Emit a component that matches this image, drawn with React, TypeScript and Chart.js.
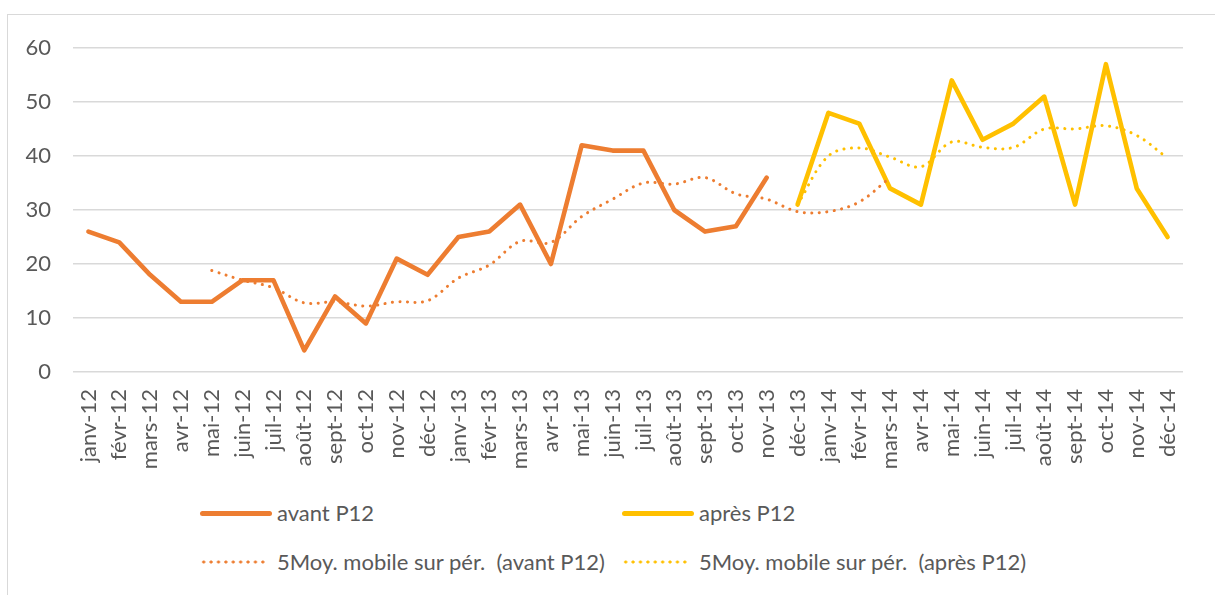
import React, { useEffect, useRef } from "react";
import { Chart, registerables } from "chart.js";

Chart.register(...registerables);

const categories = [
  "janv-12", "févr-12", "mars-12", "avr-12", "mai-12", "juin-12", "juil-12", "août-12", "sept-12", "oct-12", "nov-12", "déc-12",
  "janv-13", "févr-13", "mars-13", "avr-13", "mai-13", "juin-13", "juil-13", "août-13", "sept-13", "oct-13", "nov-13", "déc-13",
  "janv-14", "févr-14", "mars-14", "avr-14", "mai-14", "juin-14", "juil-14", "août-14", "sept-14", "oct-14", "nov-14", "déc-14",
];

const avantP12 = [
  26, 24, 18, 13, 13, 17, 17, 4, 14, 9, 21, 18,
  25, 26, 31, 20, 42, 41, 41, 30, 26, 27, 36, null,
  null, null, null, null, null, null, null, null, null, null, null, null,
];

const apresP12 = [
  null, null, null, null, null, null, null, null, null, null, null, null,
  null, null, null, null, null, null, null, null, null, null, null, 31,
  48, 46, 34, 31, 54, 43, 46, 51, 31, 57, 34, 25,
];

const moyAvant = [
  null, null, null, null, 18.8, 17, 15.6, 12.8, 13, 12.2, 13, 13.2,
  17.4, 19.8, 24.2, 24, 28.8, 32, 35, 34.8, 36, 33, 32, 29.7,
  29.7, 31.5, 36, null, null, null, null, null, null, null, null, null,
];

const moyApres = [
  null, null, null, null, null, null, null, null, null, null, null, null,
  null, null, null, null, null, null, null, null, null, null, null, 31,
  40, 41.5, 39.8, 38, 42.6, 41.6, 41.6, 45, 45, 45.6, 43.8, 39.6,
];

const yTicks = [0, 10, 20, 30, 40, 50, 60];

const legendLabels = [
  "avant P12",
  "après P12",
  "5Moy. mobile sur pér.  (avant P12)",
  "5Moy. mobile sur pér.  (après P12)",
];

const ORANGE = "#ED7D31";
const YELLOW = "#FFC000";
const TEXT = "#595959";
const GRID = "#D9D9D9";
const FONT = "Lato, 'Open Sans', sans-serif";
const FSIZE = 22;

export default function App() {
  const ref = useRef<HTMLCanvasElement | null>(null);

  useEffect(() => {
    if (!ref.current) return;
    const chart = new Chart(ref.current, {
      type: "line",
      data: {
        labels: categories,
        datasets: [
          {
            label: legendLabels[2],
            data: moyAvant,
            borderColor: ORANGE,
            borderWidth: 3,
            borderDash: [0.1, 7.4],
            borderCapStyle: "round",
            pointRadius: 0,
            tension: 0.35,
            spanGaps: false,
            order: 0,
          },
          {
            label: legendLabels[3],
            data: moyApres,
            borderColor: YELLOW,
            borderWidth: 3,
            borderDash: [0.1, 7.4],
            borderCapStyle: "round",
            pointRadius: 0,
            tension: 0.35,
            order: 0,
          },
          {
            label: legendLabels[0],
            data: avantP12,
            borderColor: ORANGE,
            borderWidth: 4.6,
            borderCapStyle: "round",
            borderJoinStyle: "round",
            pointRadius: 0,
            tension: 0,
            order: 1,
          },
          {
            label: legendLabels[1],
            data: apresP12,
            borderColor: YELLOW,
            borderWidth: 4.6,
            borderCapStyle: "round",
            borderJoinStyle: "round",
            pointRadius: 0,
            tension: 0,
            order: 1,
          },
        ],
      },
      options: {
        responsive: false,
        animation: false,
        devicePixelRatio: 1,
        layout: { padding: { left: 0, right: 32, top: 48, bottom: 0 } },
        plugins: { legend: { display: false }, tooltip: { enabled: false } },
        scales: {
          x: {
            type: "category",
            offset: true,
            grid: { display: false, drawTicks: false },
            border: { display: false },
            ticks: {
              autoSkip: false,
              maxRotation: 90,
              minRotation: 90,
              padding: 17,
              color: TEXT,
              font: { family: FONT, size: FSIZE },
            },
            afterFit: (scale: any) => {
              scale.height = 118;
            },
          },
          y: {
            min: 0,
            max: 60,
            afterBuildTicks: (scale: any) => {
              scale.ticks = yTicks.map((v) => ({ value: v }));
            },
            grid: { color: GRID, lineWidth: 1.4, drawTicks: false },
            border: { display: false },
            ticks: {
              padding: 22,
              color: TEXT,
              font: { family: FONT, size: FSIZE },
            },
            afterFit: (scale: any) => {
              scale.width = 73;
            },
          },
        },
      },
    });
    return () => chart.destroy();
  }, []);

  const sampleBase: React.CSSProperties = {
    position: "absolute",
    left: 0,
    width: 72,
    top: "50%",
  };

  const legendItems = [
    { left: 200, top: 513, color: ORANGE, dotted: false, text: legendLabels[0] },
    { left: 622, top: 513, color: YELLOW, dotted: false, text: legendLabels[1] },
    { left: 200, top: 562, color: ORANGE, dotted: true, text: legendLabels[2] },
    { left: 622, top: 562, color: YELLOW, dotted: true, text: legendLabels[3] },
  ];

  return (
    <div
      style={{
        position: "absolute",
        left: 0,
        top: 0,
        width: 1215,
        height: 595,
        overflow: "hidden",
        background: "#fff",
      }}
    >
      <div
        style={{
          position: "absolute",
          left: 7,
          top: 14,
          width: 1250,
          height: 700,
          borderTop: `1.5px solid ${GRID}`,
          borderLeft: `1.5px solid ${GRID}`,
        }}
      />
      <canvas
        ref={ref}
        width={1215}
        height={490}
        style={{ position: "absolute", left: 0, top: 0, width: 1215, height: 490 }}
      />
      {legendItems.map((it, i) => (
        <div
          key={i}
          style={{
            position: "absolute",
            left: it.left,
            top: it.top - 15,
            height: 30,
            width: 440,
          }}
        >
          {it.dotted ? (
            <div
              style={{
                ...sampleBase,
                width: 68,
                height: 4,
                marginTop: -2,
                background: `radial-gradient(circle, ${it.color} 1.3px, rgba(255,255,255,0) 1.8px) 0 0 / 7.4px 4px repeat-x`,
              }}
            />
          ) : (
            <div
              style={{
                ...sampleBase,
                height: 5,
                marginTop: -2.5,
                borderRadius: 3,
                background: it.color,
              }}
            />
          )}
          <span
            style={{
              position: "absolute",
              left: 77,
              top: 0,
              lineHeight: "30px",
              fontFamily: FONT,
              fontSize: FSIZE,
              color: TEXT,
              whiteSpace: "pre",
            }}
          >
            {it.text}
          </span>
        </div>
      ))}
    </div>
  );
}
